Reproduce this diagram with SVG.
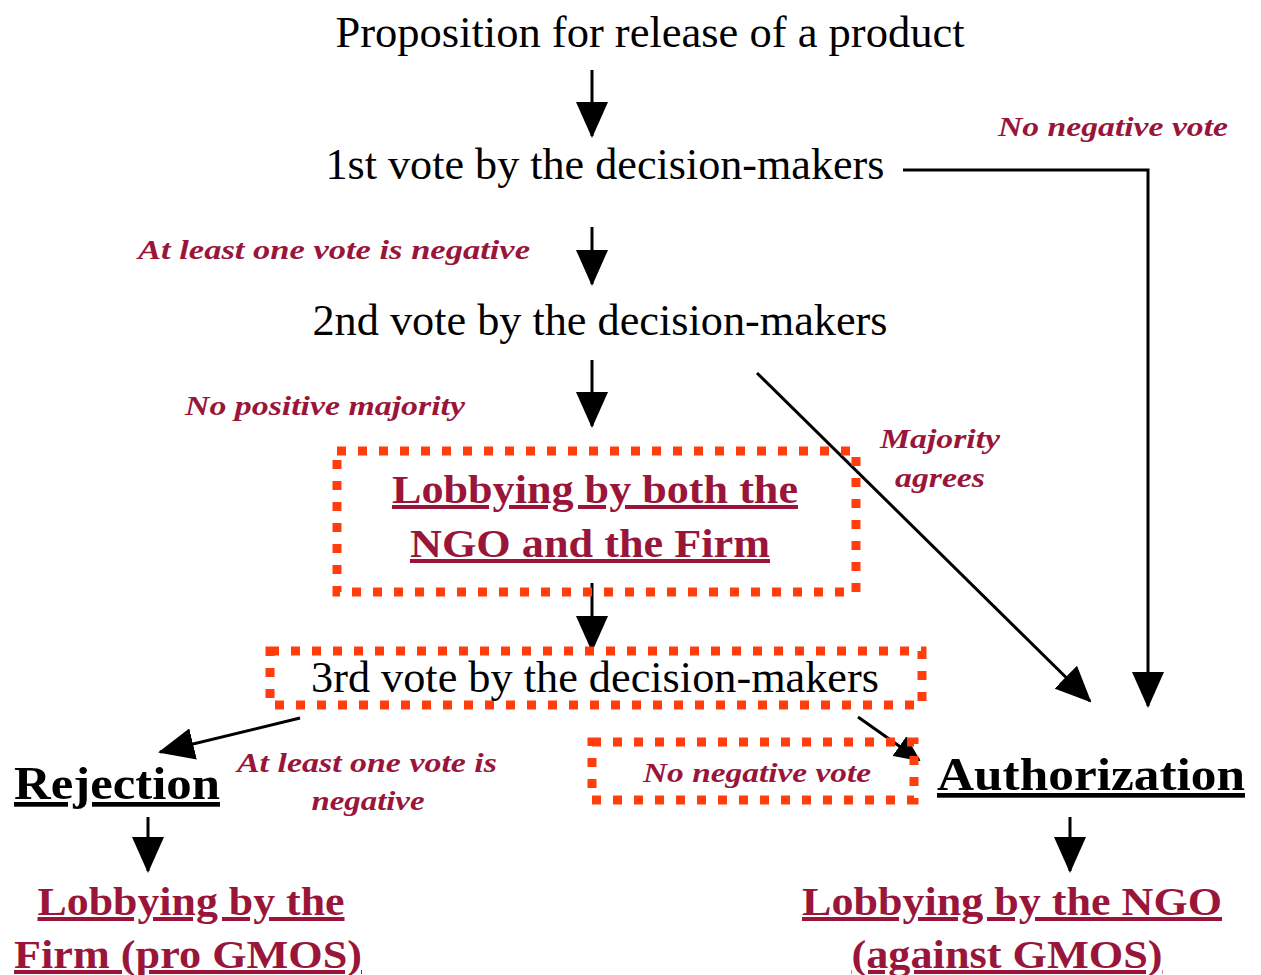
<svg xmlns="http://www.w3.org/2000/svg" width="1261" height="975" viewBox="0 0 1261 975">
<style>
.t{font-family:"Liberation Serif","Times New Roman",serif;font-size:44px;fill:#000;text-anchor:middle}
.lab{font-family:"Liberation Serif","Times New Roman",serif;font-size:28px;font-weight:bold;font-style:italic;fill:#99163A;text-anchor:middle}
.red{font-family:"Liberation Serif","Times New Roman",serif;font-size:40px;font-weight:bold;fill:#99163A;text-anchor:middle;text-decoration:underline}
.blk{font-family:"Liberation Serif","Times New Roman",serif;font-size:47px;font-weight:bold;fill:#000;text-anchor:middle;text-decoration:underline}
.box{fill:none;stroke:#FF3D0D;stroke-width:9;stroke-dasharray:9 12}
.c{fill:none;stroke:#000;stroke-width:3}
</style>
<defs>
<marker id="ah" markerUnits="userSpaceOnUse" markerWidth="36" markerHeight="32" refX="34" refY="16" orient="auto">
<path d="M0,0 L36,16 L0,32 z" fill="#000"/>
</marker>
<marker id="ahs" markerUnits="userSpaceOnUse" markerWidth="26" markerHeight="24" refX="24" refY="12" orient="auto">
<path d="M0,0 L26,12 L0,24 z" fill="#000"/>
</marker>
</defs>
<rect width="1261" height="975" fill="#fff"/>

<g id="connectors">
<line class="c" x1="592" y1="70" x2="592" y2="136" marker-end="url(#ah)"/>
<line class="c" x1="592" y1="227" x2="592" y2="284" marker-end="url(#ah)"/>
<line class="c" x1="592" y1="360" x2="592" y2="426" marker-end="url(#ah)"/>
<line class="c" x1="592" y1="583" x2="592" y2="650" marker-end="url(#ah)"/>
<polyline class="c" points="903,170 1148,170 1148,706" marker-end="url(#ah)"/>
<line class="c" x1="757" y1="373" x2="1090" y2="701" marker-end="url(#ah)"/>
<line class="c" x1="300" y1="718" x2="160" y2="752" marker-end="url(#ah)"/>
<line class="c" x1="858" y1="717" x2="919" y2="760" marker-end="url(#ahs)"/>
<line class="c" x1="148" y1="817" x2="148" y2="871" marker-end="url(#ah)"/>
<line class="c" x1="1070" y1="817" x2="1070" y2="871" marker-end="url(#ah)"/>
</g>

<g id="proposition"><text class="t" x="650" y="47" textLength="629" lengthAdjust="spacingAndGlyphs">Proposition for release of a product</text></g>
<g id="vote1"><text class="t" x="605" y="179" textLength="559" lengthAdjust="spacingAndGlyphs">1st vote by the decision-makers</text></g>
<g id="label-no-negative-1"><text class="lab" x="1113" y="136" textLength="230" lengthAdjust="spacingAndGlyphs">No negative vote</text></g>
<g id="label-at-least-1"><text class="lab" x="334" y="259" textLength="392" lengthAdjust="spacingAndGlyphs">At least one vote  is negative</text></g>
<g id="vote2"><text class="t" x="600" y="335" textLength="575" lengthAdjust="spacingAndGlyphs">2nd vote by the decision-makers</text></g>
<g id="label-no-positive"><text class="lab" x="325" y="415" textLength="280" lengthAdjust="spacingAndGlyphs">No positive majority</text></g>
<g id="label-majority"><text class="lab" x="940" y="448" textLength="120" lengthAdjust="spacingAndGlyphs">Majority</text><text class="lab" x="940" y="487" textLength="90" lengthAdjust="spacingAndGlyphs">agrees</text></g>

<g id="lobbying-both">
<rect class="box" x="337" y="451" width="519" height="141"/>
<text class="red" x="595" y="503" textLength="406" lengthAdjust="spacingAndGlyphs">Lobbying by both the</text>
<text class="red" x="590" y="557" textLength="360" lengthAdjust="spacingAndGlyphs">NGO and the Firm</text>
</g>

<g id="vote3">
<rect class="box" x="270" y="651" width="652" height="54"/>
<text class="t" x="595" y="692" textLength="568" lengthAdjust="spacingAndGlyphs">3rd vote by the decision-makers</text>
</g>

<g id="label-no-negative-2">
<rect class="box" x="592" y="742" width="322" height="58"/>
<text class="lab" x="757" y="782" textLength="228" lengthAdjust="spacingAndGlyphs">No negative vote</text>
</g>

<g id="label-at-least-2"><text class="lab" x="367" y="772" textLength="260" lengthAdjust="spacingAndGlyphs">At least one vote is</text><text class="lab" x="368" y="810" textLength="113" lengthAdjust="spacingAndGlyphs">negative</text></g>

<g id="rejection"><text class="blk" x="117" y="799" textLength="206" lengthAdjust="spacingAndGlyphs">Rejection</text></g>
<g id="authorization"><text class="blk" x="1091" y="790" textLength="308" lengthAdjust="spacingAndGlyphs">Authorization</text></g>

<g id="lobbying-firm">
<text class="red" x="191" y="915" textLength="307" lengthAdjust="spacingAndGlyphs">Lobbying by the</text>
<text class="red" x="188" y="968" textLength="348" lengthAdjust="spacingAndGlyphs">Firm (pro GMOS)</text>
</g>
<g id="lobbying-ngo">
<text class="red" x="1012" y="915" textLength="420" lengthAdjust="spacingAndGlyphs">Lobbying by the NGO</text>
<text class="red" x="1007" y="968" textLength="311" lengthAdjust="spacingAndGlyphs">(against GMOS)</text>
</g>
</svg>
